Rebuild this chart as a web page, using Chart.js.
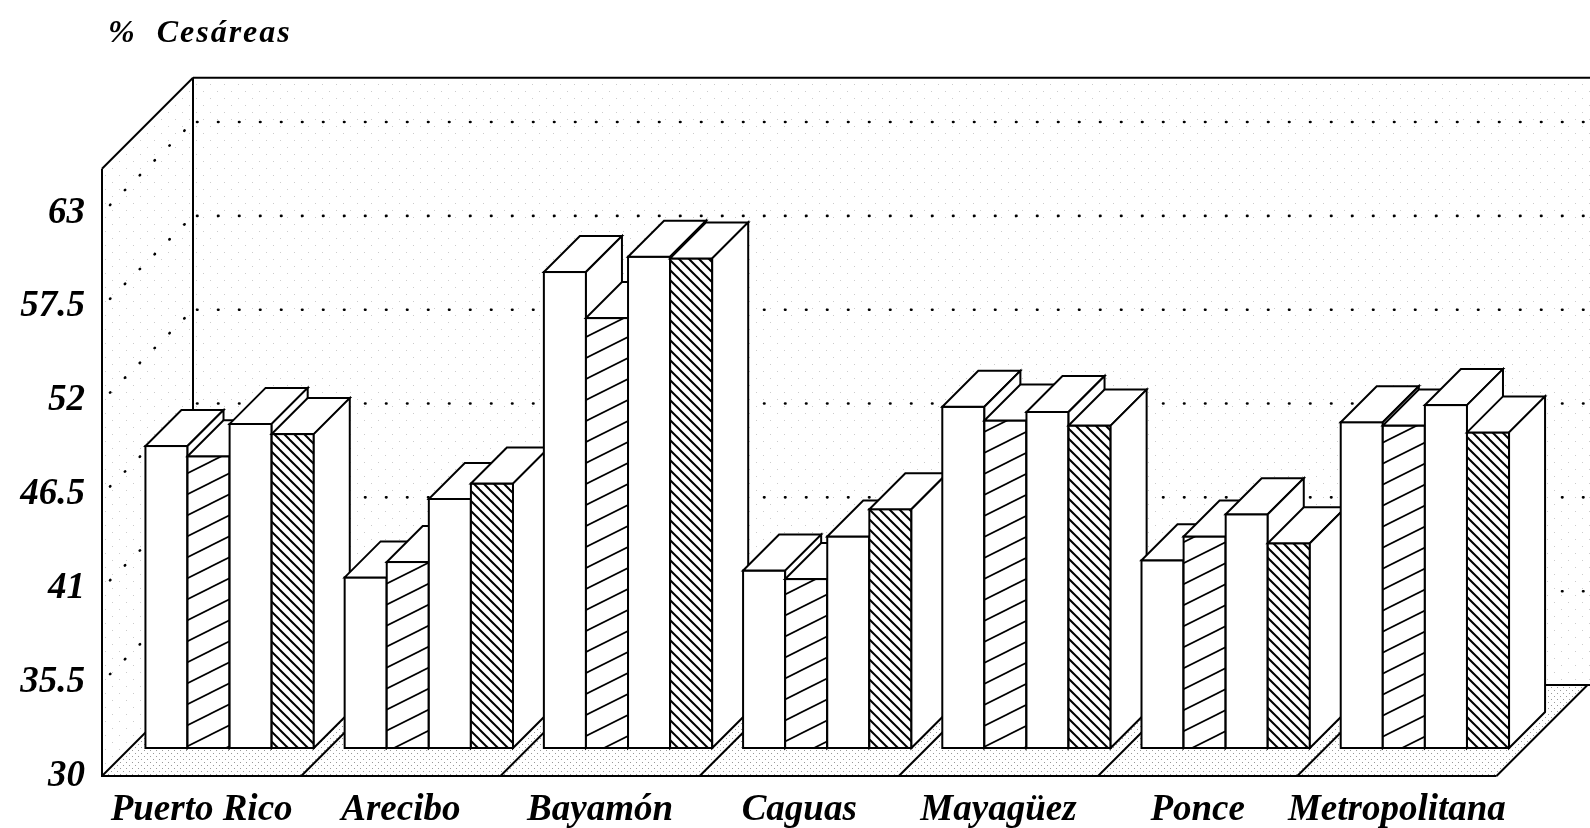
<!DOCTYPE html>
<html lang="es">
<head>
<meta charset="utf-8">
<title>% Cesáreas por región</title>
<script src="https://cdn.jsdelivr.net/npm/chart.js@4.4.1/dist/chart.umd.min.js"></script>
<style>
  html, body { margin: 0; padding: 0; background: #fff; }
  #wrap { width: 1590px; height: 828px; }
</style>
</head>
<body>
<div id="wrap"><canvas id="chart" width="1590" height="828"></canvas></div>
<script>
// ═══════════════ DATOS ═══════════════
const categories = ['Puerto Rico', 'Arecibo', 'Bayamón', 'Caguas', 'Mayagüez', 'Ponce', 'Metropolitana'];
const serie1 = [47.7, 40.0, 57.9, 40.4, 50.0, 41.0, 49.1];
const serie2 = [47.1, 40.9, 55.2, 39.9, 49.2, 42.4, 48.9];
const serie3 = [49.0, 44.6, 58.8, 42.4, 49.7, 43.7, 50.1];
const serie4 = [48.4, 45.5, 58.7, 44.0, 48.9, 42.0, 48.5];
const yTicks = [30, 35.5, 41, 46.5, 52, 57.5, 63];
const yMin = 30;
const yMax = 65.6;
const yTitle = '%  Cesáreas';

// ─── geometría del falso 3D (px) ───
const DEPTH = 36;   // profundidad de cada barra
const FRONT = 28;   // borde frontal del piso, delante de las barras
const BACK = 63;    // pared del fondo, detrás de las barras
const SERIF = '"Liberation Serif", "DejaVu Serif", serif';

// ═══════════════ TRAMAS ═══════════════
function tile(w, h, paint) {
  const c = document.createElement('canvas');
  c.width = w; c.height = h;
  const g = c.getContext('2d');
  g.fillStyle = '#fff';
  g.fillRect(0, 0, w, h);
  paint(g);
  return document.getElementById('chart').getContext('2d').createPattern(c, 'repeat');
}

// rayado suave "/" (serie 2)
const hatchSparse = tile(42, 21, g => {
  g.strokeStyle = '#000'; g.lineWidth = 1.7;
  for (let k = -1; k <= 1; k++) {
    g.beginPath(); g.moveTo(-42, 42 + 21 * k); g.lineTo(84, -21 + 21 * k); g.stroke();
  }
});
// rayado denso "\" (serie 4)
const hatchDense = tile(10, 10, g => {
  g.strokeStyle = '#000'; g.lineWidth = 2;
  for (let k = -1; k <= 1; k++) {
    g.beginPath(); g.moveTo(-10, -10 + 10 * k); g.lineTo(20, 20 + 10 * k); g.stroke();
  }
});
// punteado gris de piso y paredes
function stipple(step, color) {
  return tile(step * 2, step * 2, g => {
    g.fillStyle = color;
    g.fillRect(0, 0, 1, 1);
    g.fillRect(step, step, 1, 1);
  });
}
const floorDots = stipple(3, '#999');
const wallDots = stipple(7, '#cbcbcb');

function poly(ctx, pts, fill) {
  ctx.beginPath();
  pts.forEach(([px, py], i) => i ? ctx.lineTo(px, py) : ctx.moveTo(px, py));
  ctx.closePath();
  if (fill) { ctx.fillStyle = fill; ctx.fill(); }
  ctx.stroke();
}
function area(ctx, pts, fill) {
  ctx.beginPath();
  pts.forEach(([px, py], i) => i ? ctx.lineTo(px, py) : ctx.moveTo(px, py));
  ctx.closePath();
  ctx.fillStyle = fill;
  ctx.fill();
}
function line(ctx, x1, y1, x2, y2) {
  ctx.beginPath(); ctx.moveTo(x1, y1); ctx.lineTo(x2, y2); ctx.stroke();
}

// ═══════════════ CAJA 3D + BARRAS ═══════════════
const box3d = {
  id: 'box3d',
  beforeDatasetsDraw(chart) {
    const { ctx, chartArea: a, scales: { x, y } } = chart;
    const y0 = y.getPixelForValue(yMin);
    const y1 = y.getPixelForValue(yMax);
    const fl = a.left - FRONT, fr = a.right - FRONT, fb = y0 + FRONT, ft = y1 + FRONT;
    const bl = a.left + BACK, br = chart.width + 5, bb = y0 - BACK, bt = y1 - BACK;

    ctx.save();
    ctx.strokeStyle = '#000';

    // paredes y piso
    ctx.fillStyle = wallDots;
    ctx.fillRect(bl, bt, br - bl, bb - bt);
    area(ctx, [[fl, ft], [bl, bt], [bl, bb], [fl, fb]], wallDots);
    area(ctx, [[fl, fb], [fr, fb], [fr + FRONT + BACK, bb], [bl, bb]], floorDots);

    // líneas punteadas de las marcas
    ctx.lineWidth = 2.6;
    ctx.lineCap = 'round';
    ctx.setLineDash([0.5, 20.5]);
    yTicks.forEach(v => {
      if (v === yMin) return;
      const p = y.getPixelForValue(v);
      line(ctx, bl + 4, p - BACK, br, p - BACK);
      line(ctx, fl + 8, p + FRONT - 8, bl - 4, p - BACK + 4);
    });
    ctx.setLineDash([]);
    ctx.lineCap = 'butt';

    // divisiones del piso entre regiones
    ctx.lineWidth = 2;
    const cw = x.getPixelForValue(1) - x.getPixelForValue(0);
    const start = x.getPixelForValue(0) - cw / 2;
    for (let k = 0; k <= categories.length; k++) {
      const px = start + k * cw;
      line(ctx, px - FRONT, fb, px + BACK, bb);
    }
    // contorno
    line(ctx, fl, ft, fl, fb);
    line(ctx, fl, ft, bl, bt);
    line(ctx, bl, bt, bl, bb);
    line(ctx, bl, bt, br, bt);
    line(ctx, bl, bb, br, bb);
    line(ctx, fl - 1, fb, fr, fb);

    // barras: de izquierda a derecha para que se tapen bien
    const metas = chart.data.datasets.map((d, j) => chart.getDatasetMeta(j));
    for (let i = 0; i < categories.length; i++) {
      metas.forEach(meta => {
        const bar = meta.data[i];
        const { x: cx, y: top, base, width } = bar.getProps(['x', 'y', 'base', 'width'], true);
        const L = cx - width / 2, R = cx + width / 2;
        bar.draw(ctx);
        ctx.lineWidth = 2;
        ctx.strokeRect(L, top, width, base - top);
        poly(ctx, [[L, top], [R, top], [R + DEPTH, top - DEPTH], [L + DEPTH, top - DEPTH]], '#fff');
        poly(ctx, [[R, top], [R + DEPTH, top - DEPTH], [R + DEPTH, base - DEPTH], [R, base]], '#fff');
      });
    }

    // título del eje
    ctx.fillStyle = '#000';
    ctx.font = 'italic bold 32px ' + SERIF;
    ctx.letterSpacing = '2px';
    ctx.textBaseline = 'alphabetic';
    ctx.textAlign = 'left';
    ctx.fillText(yTitle, 108, 42);
    ctx.restore();
    return false;
  }
};

new Chart(document.getElementById('chart'), {
  type: 'bar',
  data: {
    labels: categories,
    datasets: [
      { label: 'Serie 1', data: serie1, backgroundColor: '#fff' },
      { label: 'Serie 2', data: serie2, backgroundColor: hatchSparse },
      { label: 'Serie 3', data: serie3, backgroundColor: '#fff' },
      { label: 'Serie 4', data: serie4, backgroundColor: hatchDense }
    ]
  },
  options: {
    responsive: false,
    animation: false,
    devicePixelRatio: 1,
    layout: { padding: { top: 140.7, right: 65.5, bottom: 0, left: 0 } },
    datasets: { bar: { base: yMin, barPercentage: 1, categoryPercentage: 0.845, borderWidth: 0 } },
    plugins: { legend: { display: false }, tooltip: { enabled: false }, title: { display: false } },
    scales: {
      x: {
        grid: { display: false, drawTicks: false },
        border: { display: false },
        afterFit: s => { s.height = 80; },
        ticks: {
          color: '#000', padding: 40, labelOffset: -FRONT, maxRotation: 0, autoSkip: false,
          font: { family: SERIF, size: 37, style: 'italic', weight: 'bold' }
        }
      },
      y: {
        min: yMin,
        max: yMax,
        afterBuildTicks: s => { s.ticks = yTicks.map(v => ({ value: v })); },
        afterFit: s => { s.width = 130; },
        grid: { display: false, drawTicks: false },
        border: { display: false },
        ticks: {
          color: '#000', padding: 45, labelOffset: FRONT,
          font: { family: SERIF, size: 37, style: 'italic', weight: 'bold' }
        }
      }
    }
  },
  plugins: [box3d]
});
</script>
</body>
</html>
